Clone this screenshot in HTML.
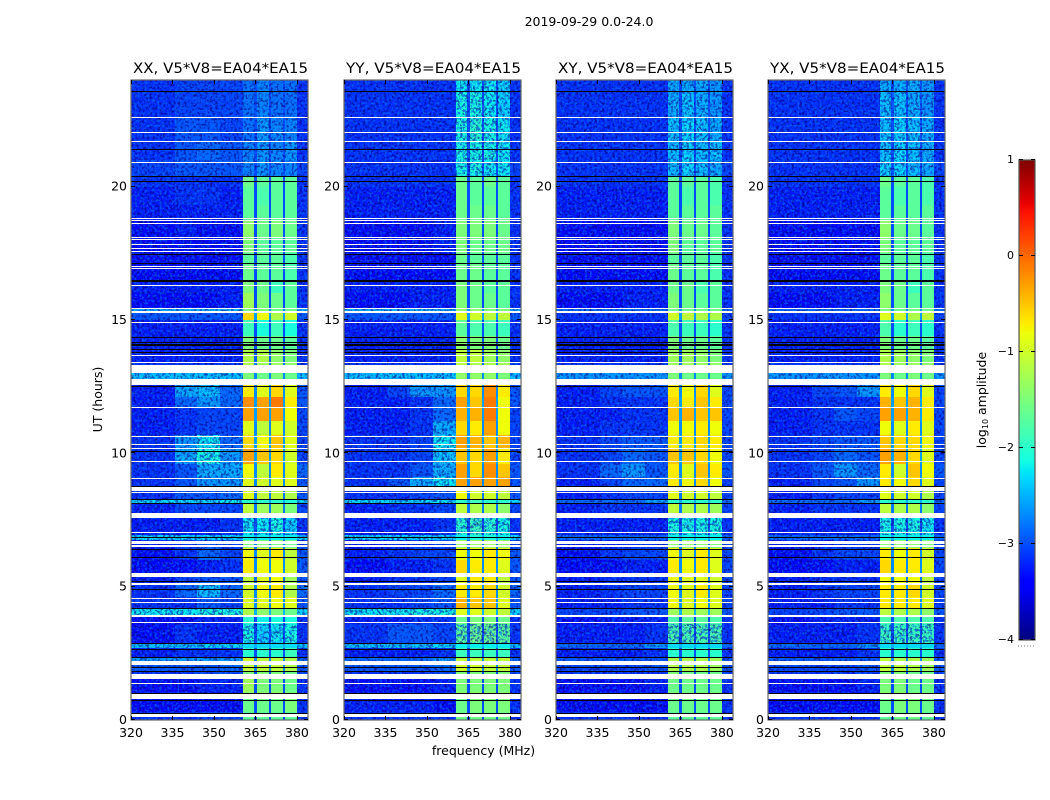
<!DOCTYPE html>
<html>
<head>
<meta charset="utf-8">
<title>2019-09-29 amplitude waterfall</title>
<style>
html,body{margin:0;padding:0;background:#fff;}
svg{display:block;}
text{font-family:"DejaVu Sans","Liberation Sans",sans-serif;fill:#000;}
</style>
</head>
<body>
<svg id="fig" width="1050" height="800" viewBox="0 0 1050 800" xmlns="http://www.w3.org/2000/svg">
<defs>
<filter id="spk-dark" x="0" y="0" width="100%" height="100%" color-interpolation-filters="sRGB">
<feTurbulence type="fractalNoise" baseFrequency="0.38" numOctaves="2" seed="4"/>
<feColorMatrix type="matrix" values="0 0 0 0 0  0 0 0 0 0  0 0 0 0 0.5  6 0 0 0 -2.9"/>
</filter>
<filter id="spk-light" x="0" y="0" width="100%" height="100%" color-interpolation-filters="sRGB">
<feTurbulence type="fractalNoise" baseFrequency="0.4" numOctaves="2" seed="11"/>
<feColorMatrix type="matrix" values="0 0 0 0 0  0 0 0 0 0.42  0 0 0 0 1  0 6 0 0 -3.0"/>
</filter>
</defs>
<text x="589" y="26" font-size="12.5" text-anchor="middle">2019-09-29 0.0-24.0</text>
<text x="483.5" y="755" font-size="12.5" text-anchor="middle">frequency (MHz)</text>
<text x="102" y="399.5" font-size="12.5" text-anchor="middle" transform="rotate(-90 102 399.5)">UT (hours)</text>
<text x="986" y="400" font-size="12.5" text-anchor="middle" transform="rotate(-90 986 400)">log<tspan font-size="8" dy="2">10</tspan><tspan dy="-2"> amplitude</tspan></text>
<g id="panels"></g>
<g id="cbar"></g>
</svg>
<script>
// ---- axis data ----
const xTicks = [320, 335, 350, 365, 380];
const yTicks = [0, 5, 10, 15, 20];
const cbarTicks = [1, 0, -1, -2, -3, -4];
const panelNames = ['XX', 'YY', 'XY', 'YX'];
// frequency edges (MHz) of heatmap columns
const freqEdges = [320, 336, 344, 352, 360.5, 364.6, 365.4, 369.8, 370.6, 374.8, 375.6, 380, 384];
// which value in a row each column reads; 9 means the shared gap level
const columnValue = [0, 1, 2, 3, 4, 9, 5, 9, 6, 9, 7, 8];
// UT edges (hours) of heatmap rows
const utEdges = [0,.3,.8,1.05,1.6,1.85,2.05,2.35,2.7,2.88,3.6,3.92,4.2,4.6,5.1,5.5,6,6.45,6.75,6.95,7.6,8.15,8.3,8.7,9.1,9.6,10.2,10.7,11.2,11.7,12.1,12.55,13.05,13.4,13.9,14.4,15,15.3,15.45,16,16.5,17.1,17.5,18.1,18.7,19.3,20,20.4,21,21.7,22.6,23.6,24];
// log10 amplitude in the narrow gaps between sub-bands, one per row
const gapLevels = [-3.0,-3.0,-3.0,-3.0,-3.0,-2.7,-2.7,-3.0,-2.5,-3.0,-3.0,-2.5,-2.7,-2.7,-2.8,-2.7,-2.7,-2.8,-2.5,-3.0,-2.8,-2.5,-2.8,-2.7,-2.7,-2.6,-2.6,-2.7,-2.6,-2.6,-2.7,-2.7,-2.8,-2.9,-3.0,-3.0,-2.6,-2.6,-3.0,-3.0,-3.0,-3.0,-3.0,-3.0,-3.0,-3.0,-3.0,-3.0,-3.0,-3.0,-3.0,-3.0];
// flagged data: rows drawn white / black, hours [start, end]
const whiteFlags = [[.1,.25],[.77,1],[1.35,1.4],[1.55,1.74],[2.05,2.23],[3.65,3.69],[3.88,3.92],[4.37,4.41],[4.55,4.59],[5.08,5.12],[5.35,5.5],[6.5,6.56],[6.6,6.73],[7,7.04],[7.57,7.75],[8.5,8.54],[8.6,8.76],[9.04,9.08],[9.66,9.7],[10.15,10.19],[10.3,10.34],[10.61,10.65],[11.69,11.73],[12.55,12.8],[13,13.3],[13.38,13.42],[13.64,13.68],[14.88,14.92],[15.25,15.34],[15.4,15.46],[16.27,16.31],[16.9,16.94],[16.98,17.02],[17.54,17.58],[17.65,17.69],[17.8,17.84],[18,18.04],[18.07,18.11],[18.6,18.64],[18.7,18.74],[18.8,18.84],[20.88,20.92],[21.67,21.71],[22,22.04],[22.57,22.61]];
const blackFlags = [.28,.74,1.03,1.85,2,2.35,2.68,2.87,4.2,4.93,5.23,6.13,6.43,6.85,8.12,8.3,8.78,10.08,12.52,13.8,13.93,14.05,14.1,14.17,14.35,16.45,16.5,17.13,17.47,20.2,20.39,21.4,23.58];
// UT spans where the band is weak enough for noise to show through
const noisyBandSpans = [[2.88,3.6],[6.95,7.57],[20.4,24]];
// log10 amplitude rows: 320-336, 336-344, 344-352, 352-360.5, sub-band 1-4, 380-384
const rowsXX = [
[-3.0,-3.0,-2.9,-2.9,-1.7,-1.7,-1.7,-1.7,-3.0],[-3.2,-3.2,-3.2,-3.2,-1.6,-1.6,-1.6,-1.5,-3.0],[-3.1,-3.1,-3.1,-3.1,-1.4,-1.4,-1.4,-1.5,-3.0],[-3.2,-3.2,-3.1,-3.1,-1.3,-1.5,-1.5,-1.6,-3.0],
[-3.0,-3.0,-2.9,-2.9,-1.5,-1.5,-1.5,-1.6,-2.9],[-2.8,-2.8,-2.8,-2.7,-1.1,-1.1,-1.1,-1.2,-2.8],[-2.6,-2.6,-2.6,-2.6,-1.0,-1.1,-1.1,-1.2,-2.7],[-3.1,-3.0,-3.0,-3.0,-2.0,-2.0,-2.0,-1.9,-3.0],
[-2.4,-2.4,-2.3,-2.3,-2.3,-2.3,-2.3,-2.3,-2.4],[-3.2,-3.0,-3.1,-3.1,-2.1,-2.3,-2.2,-2.1,-3.0],[-3.2,-3.2,-3.1,-3.1,-2.0,-2.2,-2.1,-2.1,-3.0],[-2.2,-2.2,-2.1,-2.1,-1.2,-1.4,-1.5,-1.6,-2.3],
[-3.0,-3.0,-2.8,-2.9,-0.9,-0.9,-0.8,-0.9,-2.8],[-3.0,-2.7,-2.4,-2.7,-1.0,-0.8,-0.7,-1.2,-2.7],[-3.1,-2.9,-2.8,-2.8,-1.1,-0.9,-0.8,-1.3,-2.8],[-3.2,-3.2,-3.1,-3.0,-0.7,-0.8,-0.8,-1.0,-2.8],
[-3.2,-3.0,-2.7,-2.9,-0.8,-0.9,-0.7,-1.1,-2.8],[-3.1,-3.0,-2.8,-2.9,-1.5,-1.5,-1.5,-1.6,-2.9],[-2.3,-2.3,-2.3,-2.3,-2.2,-2.2,-2.2,-2.2,-2.3],[-3.1,-3.1,-3.1,-3.0,-2.2,-2.2,-2.1,-2.3,-3.0],
[-3.1,-2.9,-2.9,-2.9,-1.1,-1.3,-1.3,-1.5,-2.9],[-2.3,-2.3,-2.3,-2.2,-2.0,-2.0,-2.0,-2.1,-2.3],[-3.0,-2.8,-2.8,-2.7,-0.9,-1.1,-1.1,-1.2,-2.8],[-3.0,-2.8,-2.6,-2.6,-0.9,-1.0,-0.9,-0.9,-2.8],
[-3.0,-2.8,-2.5,-2.5,-0.8,-1.1,-0.7,-0.9,-2.7],[-3.0,-2.5,-2.1,-2.6,-0.3,-0.5,-0.6,-1.0,-2.9],[-3.0,-2.6,-2.2,-2.7,-0.6,-0.8,-0.5,-0.9,-2.9],[-3.1,-3.0,-2.9,-2.9,-0.9,-1.1,-0.9,-1.0,-2.9],
[-3.1,-3.0,-2.9,-2.9,-0.3,-0.3,-0.3,-0.8,-2.9],[-3.1,-2.7,-2.6,-2.7,-0.2,-0.3,-0.1,-0.7,-2.8],[-3.1,-2.5,-2.4,-2.7,-0.7,-0.9,-0.6,-0.9,-2.8],[-2.4,-2.4,-2.4,-2.4,-1.5,-1.6,-1.5,-1.6,-2.4],
[-3.0,-3.0,-3.0,-3.0,-1.2,-1.3,-1.3,-1.4,-3.0],[-3.1,-3.1,-3.1,-3.1,-1.2,-1.2,-1.4,-1.5,-3.0],[-3.1,-3.1,-3.1,-3.1,-1.5,-1.6,-1.6,-1.7,-3.0],[-3.1,-3.1,-3.1,-3.1,-1.9,-2.1,-1.9,-2.1,-3.0],
[-2.8,-2.8,-2.8,-2.8,-0.6,-0.8,-1.2,-1.0,-2.8],[-2.5,-2.5,-2.5,-2.5,-1.5,-1.5,-1.6,-1.6,-2.5],[-3.2,-3.2,-3.2,-3.1,-1.3,-1.5,-1.6,-1.7,-3.0],[-3.1,-3.1,-3.1,-3.1,-1.5,-1.6,-1.9,-1.7,-3.0],
[-3.2,-3.2,-3.2,-3.2,-1.6,-1.7,-1.7,-1.8,-3.0],[-3.2,-3.2,-3.2,-3.2,-1.7,-1.7,-1.7,-1.8,-3.0],[-3.2,-3.2,-3.2,-3.2,-1.5,-1.7,-1.7,-1.7,-3.0],[-3.2,-3.1,-3.2,-3.2,-1.4,-1.6,-1.5,-1.6,-3.0],
[-3.1,-3.1,-3.1,-3.1,-1.7,-1.7,-1.7,-1.7,-3.0],[-3.1,-3.0,-3.0,-3.1,-1.7,-1.8,-1.7,-1.7,-3.0],[-3.0,-3.0,-3.0,-3.0,-1.6,-1.7,-1.7,-1.7,-3.0],[-2.9,-2.8,-2.8,-2.8,-2.7,-2.6,-2.7,-2.7,-2.9],
[-3.0,-2.8,-2.7,-2.8,-2.7,-2.6,-2.7,-2.6,-3.0],[-3.0,-2.8,-2.8,-2.9,-2.8,-2.6,-2.7,-2.7,-3.0],[-3.0,-2.9,-2.9,-2.9,-2.8,-2.7,-2.8,-2.8,-3.0],[-3.0,-2.9,-2.9,-2.9,-2.8,-2.7,-2.8,-2.8,-3.0]];
const rowsYY = [
[-3.0,-3.0,-3.0,-3.0,-1.6,-1.6,-1.6,-1.6,-3.0],[-3.1,-3.1,-3.1,-3.2,-1.6,-1.5,-1.5,-1.5,-3.0],[-3.1,-3.1,-3.1,-3.1,-1.4,-1.4,-1.4,-1.4,-3.0],[-3.2,-3.2,-3.2,-3.1,-1.5,-1.5,-1.5,-1.5,-3.0],
[-3.0,-3.0,-3.0,-2.9,-1.5,-1.5,-1.5,-1.5,-2.9],[-2.8,-2.8,-2.8,-2.7,-1.0,-1.0,-1.1,-1.1,-2.8],[-2.7,-2.7,-2.7,-2.6,-1.1,-1.1,-1.1,-1.1,-2.7],[-3.1,-3.1,-3.1,-3.0,-1.9,-1.9,-1.9,-1.9,-3.0],
[-2.4,-2.4,-2.4,-2.3,-2.2,-2.2,-2.2,-2.2,-2.4],[-3.0,-2.8,-2.8,-2.9,-1.7,-1.6,-1.6,-1.7,-3.0],[-3.1,-3.1,-3.0,-3.0,-1.6,-1.5,-1.5,-1.6,-3.0],[-2.2,-2.2,-2.1,-2.1,-0.9,-0.9,-1.0,-1.1,-2.3],
[-3.0,-3.0,-2.9,-2.8,-0.4,-0.5,-0.5,-0.9,-2.8],[-3.0,-2.9,-2.9,-2.7,-0.7,-0.7,-0.6,-1.0,-2.7],[-3.1,-3.0,-3.0,-2.9,-0.9,-0.7,-0.7,-1.1,-2.8],[-3.2,-3.1,-3.1,-3.0,-0.6,-0.7,-0.7,-0.9,-2.8],
[-3.1,-3.0,-2.9,-2.9,-0.8,-0.8,-0.7,-0.8,-2.8],[-3.1,-3.0,-3.0,-2.9,-1.3,-1.3,-1.3,-1.4,-2.9],[-2.3,-2.3,-2.3,-2.3,-2.2,-2.1,-2.1,-2.2,-2.3],[-3.1,-3.1,-3.1,-3.0,-2.0,-1.9,-2.0,-2.1,-3.0],
[-3.1,-3.0,-3.0,-2.9,-1.1,-1.2,-1.2,-1.4,-2.9],[-2.3,-2.3,-2.3,-2.2,-2.0,-1.9,-2.0,-2.0,-2.3],[-3.0,-3.0,-2.9,-2.8,-0.8,-1.0,-1.0,-1.1,-2.8],[-3.0,-2.8,-2.5,-2.2,-0.3,-0.3,-0.3,-0.3,-2.8],
[-3.0,-3.0,-2.8,-2.5,-0.3,-0.6,-0.2,-0.5,-2.8],[-3.0,-3.0,-2.9,-2.4,-0.5,-0.6,-0.3,-0.7,-2.9],[-3.0,-3.0,-2.9,-2.2,-0.3,-0.4,-0.5,-0.4,-2.9],[-3.1,-3.1,-3.0,-2.5,-0.6,-0.7,-0.3,-0.8,-2.9],
[-3.1,-3.1,-3.0,-2.7,-0.4,-0.4,-0.1,-0.8,-2.9],[-3.1,-3.1,-3.0,-2.7,-0.3,-0.5,-0.1,-0.8,-2.8],[-3.1,-2.9,-2.6,-2.6,-0.6,-0.6,-0.2,-0.7,-2.8],[-2.4,-2.4,-2.4,-2.4,-1.4,-1.4,-1.4,-1.5,-2.4],
[-3.0,-3.0,-3.0,-3.0,-1.1,-1.2,-1.2,-1.3,-3.0],[-3.1,-3.1,-3.1,-3.1,-1.1,-1.1,-1.3,-1.4,-3.0],[-3.1,-3.1,-3.1,-3.1,-1.4,-1.5,-1.5,-1.6,-3.0],[-3.1,-3.1,-3.1,-3.1,-1.7,-1.8,-1.8,-1.9,-3.0],
[-2.8,-2.8,-2.8,-2.8,-0.9,-1.0,-1.1,-1.1,-2.8],[-2.5,-2.5,-2.5,-2.5,-1.4,-1.4,-1.5,-1.5,-2.5],[-3.2,-3.2,-3.1,-3.1,-1.5,-1.6,-1.6,-1.7,-3.0],[-3.1,-3.1,-3.1,-3.1,-1.5,-1.6,-1.7,-1.7,-3.0],
[-3.2,-3.2,-3.2,-3.2,-1.6,-1.6,-1.7,-1.7,-3.0],[-3.2,-3.2,-3.2,-3.2,-1.6,-1.7,-1.7,-1.7,-3.0],[-3.2,-3.2,-3.2,-3.1,-1.5,-1.6,-1.6,-1.6,-3.0],[-3.2,-3.2,-3.2,-3.1,-1.5,-1.5,-1.5,-1.6,-3.0],
[-3.1,-3.1,-3.1,-3.1,-1.6,-1.6,-1.6,-1.7,-3.0],[-3.1,-3.1,-3.1,-3.1,-1.6,-1.7,-1.7,-1.7,-3.0],[-3.0,-3.0,-3.0,-3.0,-1.6,-1.7,-1.6,-1.7,-3.0],[-3.0,-3.0,-3.0,-3.0,-2.1,-2.1,-2.2,-2.2,-2.9],
[-3.0,-3.0,-3.0,-3.0,-2.1,-2.1,-2.1,-2.2,-3.0],[-3.0,-3.0,-3.0,-3.0,-2.1,-2.0,-2.1,-2.2,-3.0],[-3.0,-3.0,-3.0,-3.0,-2.1,-2.1,-2.2,-2.3,-3.0],[-3.0,-3.0,-3.0,-3.0,-2.2,-2.2,-2.2,-2.3,-3.0]];
const rowsXY = [
[-3.0,-3.0,-3.0,-3.0,-1.7,-1.7,-1.7,-1.7,-3.0],[-3.2,-3.2,-3.2,-3.2,-1.6,-1.6,-1.6,-1.6,-3.0],[-3.1,-3.1,-3.1,-3.1,-1.5,-1.5,-1.5,-1.5,-3.0],[-3.2,-3.2,-3.2,-3.1,-1.6,-1.6,-1.6,-1.6,-3.0],
[-3.0,-3.0,-3.0,-3.0,-1.5,-1.6,-1.6,-1.6,-2.9],[-2.9,-2.9,-2.9,-2.8,-1.2,-1.2,-1.2,-1.3,-2.8],[-2.8,-2.8,-2.8,-2.8,-1.2,-1.2,-1.2,-1.3,-2.8],[-3.1,-3.1,-3.1,-3.0,-2.0,-2.0,-2.0,-2.0,-3.0],
[-2.7,-2.7,-2.7,-2.6,-2.3,-2.3,-2.3,-2.3,-2.7],[-3.1,-3.1,-3.1,-3.0,-1.8,-1.8,-1.8,-1.8,-3.0],[-3.2,-3.1,-3.1,-3.1,-1.8,-1.7,-1.7,-1.8,-3.0],[-2.9,-2.9,-2.8,-2.8,-1.3,-1.2,-1.3,-1.3,-2.8],
[-3.1,-3.1,-3.0,-3.0,-0.8,-0.9,-0.8,-0.9,-2.9],[-3.1,-3.0,-2.9,-2.9,-0.8,-0.9,-0.7,-0.9,-2.9],[-3.1,-3.0,-3.0,-3.0,-0.8,-0.9,-0.9,-1.0,-2.9],[-3.2,-3.2,-3.1,-3.1,-0.7,-0.8,-0.7,-0.9,-2.9],
[-3.2,-3.0,-2.9,-2.9,-0.8,-0.9,-0.7,-0.9,-2.9],[-3.1,-3.1,-3.0,-3.0,-1.4,-1.4,-1.4,-1.5,-2.9],[-2.7,-2.7,-2.7,-2.7,-2.2,-2.2,-2.2,-2.2,-2.7],[-3.1,-3.1,-3.1,-3.1,-2.1,-2.1,-2.1,-2.1,-3.0],
[-3.1,-3.0,-3.0,-3.0,-1.1,-1.2,-1.2,-1.3,-2.9],[-2.7,-2.7,-2.7,-2.6,-2.0,-2.0,-2.0,-2.0,-2.7],[-3.1,-3.0,-2.9,-2.9,-0.9,-1.0,-1.0,-1.1,-2.9],[-3.1,-2.9,-2.7,-2.7,-0.7,-0.8,-0.6,-0.8,-2.9],
[-3.0,-2.7,-2.6,-2.8,-0.7,-0.9,-0.5,-0.7,-2.8],[-3.0,-2.9,-2.7,-2.8,-0.5,-0.5,-0.6,-0.8,-2.9],[-3.0,-2.9,-2.8,-2.8,-0.7,-0.7,-0.6,-0.7,-2.9],[-3.1,-3.0,-3.0,-3.0,-0.8,-0.8,-0.7,-0.8,-2.9],
[-3.1,-3.1,-3.0,-3.0,-0.5,-0.4,-0.5,-0.5,-2.9],[-3.1,-3.0,-3.0,-3.0,-0.6,-0.7,-0.5,-0.7,-2.9],[-3.1,-2.9,-2.8,-2.8,-0.7,-0.8,-0.6,-0.9,-2.9],[-2.6,-2.6,-2.6,-2.6,-1.5,-1.6,-1.6,-1.6,-2.6],
[-3.0,-3.0,-3.0,-3.0,-1.3,-1.3,-1.3,-1.4,-3.0],[-3.1,-3.1,-3.1,-3.1,-1.3,-1.3,-1.4,-1.5,-3.0],[-3.1,-3.1,-3.1,-3.1,-1.5,-1.6,-1.6,-1.7,-3.0],[-3.1,-3.1,-3.1,-3.1,-1.8,-1.9,-1.9,-2.0,-3.0],
[-3.0,-3.0,-3.0,-3.0,-1.0,-1.1,-1.2,-1.2,-2.9],[-2.7,-2.7,-2.7,-2.7,-1.6,-1.6,-1.6,-1.6,-2.7],[-3.2,-3.2,-3.1,-3.1,-1.5,-1.6,-1.7,-1.7,-3.0],[-3.1,-3.1,-3.1,-3.1,-1.6,-1.6,-1.8,-1.7,-3.0],
[-3.2,-3.2,-3.2,-3.2,-1.6,-1.7,-1.7,-1.8,-3.0],[-3.2,-3.2,-3.2,-3.2,-1.7,-1.7,-1.7,-1.8,-3.0],[-3.2,-3.2,-3.2,-3.2,-1.5,-1.7,-1.7,-1.7,-3.0],[-3.2,-3.2,-3.2,-3.2,-1.5,-1.6,-1.6,-1.7,-3.0],
[-3.1,-3.1,-3.1,-3.1,-1.7,-1.7,-1.7,-1.7,-3.0],[-3.1,-3.1,-3.1,-3.1,-1.7,-1.8,-1.7,-1.8,-3.0],[-3.0,-3.0,-3.0,-3.0,-1.7,-1.7,-1.7,-1.8,-3.0],[-3.0,-3.0,-3.0,-3.0,-2.4,-2.3,-2.4,-2.5,-2.9],
[-3.0,-3.0,-3.0,-3.0,-2.4,-2.3,-2.4,-2.4,-3.0],[-3.0,-3.0,-3.0,-3.0,-2.4,-2.3,-2.4,-2.5,-3.0],[-3.0,-3.0,-3.0,-3.0,-2.5,-2.4,-2.5,-2.6,-3.0],[-3.0,-3.0,-3.0,-3.0,-2.5,-2.5,-2.5,-2.6,-3.0]];
const rowsYX = [
[-3.0,-3.0,-3.0,-3.0,-1.7,-1.6,-1.6,-1.7,-3.0],[-3.2,-3.2,-3.2,-3.2,-1.6,-1.5,-1.5,-1.6,-3.0],[-3.1,-3.1,-3.1,-3.1,-1.4,-1.4,-1.5,-1.5,-3.0],[-3.2,-3.2,-3.2,-3.1,-1.5,-1.5,-1.6,-1.6,-3.0],
[-3.0,-3.0,-3.0,-3.0,-1.5,-1.5,-1.6,-1.6,-2.9],[-2.9,-2.9,-2.9,-2.8,-1.1,-1.1,-1.2,-1.3,-2.8],[-2.8,-2.8,-2.8,-2.8,-1.1,-1.2,-1.2,-1.3,-2.8],[-3.1,-3.1,-3.1,-3.0,-2.0,-2.0,-2.0,-2.0,-3.0],
[-2.7,-2.7,-2.7,-2.6,-2.3,-2.3,-2.3,-2.3,-2.7],[-3.1,-3.1,-3.1,-3.0,-1.9,-1.9,-1.9,-1.9,-3.0],[-3.2,-3.1,-3.1,-3.1,-1.8,-1.8,-1.8,-1.8,-3.0],[-2.9,-2.9,-2.8,-2.8,-1.1,-1.2,-1.2,-1.4,-2.8],
[-3.1,-3.1,-3.0,-3.0,-0.7,-0.7,-0.7,-0.9,-2.9],[-3.1,-3.0,-2.9,-2.9,-0.7,-0.7,-0.6,-1.0,-2.9],[-3.1,-3.0,-3.0,-3.0,-0.8,-0.8,-0.8,-1.1,-2.9],[-3.2,-3.2,-3.1,-3.1,-0.6,-0.7,-0.7,-0.9,-2.9],
[-3.2,-3.0,-2.9,-2.9,-0.7,-0.8,-0.7,-1.0,-2.9],[-3.1,-3.1,-3.0,-3.0,-1.4,-1.4,-1.4,-1.5,-2.9],[-2.7,-2.7,-2.7,-2.7,-2.2,-2.2,-2.2,-2.2,-2.7],[-3.1,-3.1,-3.1,-3.1,-2.1,-2.1,-2.1,-2.2,-3.0],
[-3.1,-3.0,-3.0,-3.0,-1.1,-1.2,-1.2,-1.4,-2.9],[-2.7,-2.7,-2.7,-2.6,-2.0,-2.0,-2.0,-2.0,-2.7],[-3.1,-3.0,-2.9,-2.9,-0.9,-1.0,-1.0,-1.2,-2.9],[-3.1,-2.9,-2.8,-2.6,-0.7,-0.8,-0.6,-0.9,-2.9],
[-3.0,-2.8,-2.6,-2.7,-0.7,-1.0,-0.5,-0.8,-2.8],[-3.0,-2.9,-2.7,-2.8,-0.3,-0.4,-0.6,-0.9,-2.9],[-3.0,-2.9,-2.8,-2.8,-0.5,-0.6,-0.6,-0.8,-2.9],[-3.1,-3.0,-3.0,-3.0,-0.8,-0.9,-0.7,-0.9,-2.9],
[-3.1,-3.0,-2.8,-2.9,-0.3,-0.3,-0.4,-0.7,-2.9],[-3.1,-3.0,-3.0,-3.0,-0.4,-0.5,-0.4,-0.7,-2.9],[-3.1,-2.9,-2.8,-2.6,-0.7,-0.8,-0.6,-0.9,-2.9],[-2.6,-2.6,-2.6,-2.6,-1.5,-1.6,-1.5,-1.6,-2.6],
[-3.0,-3.0,-3.0,-3.0,-1.2,-1.3,-1.3,-1.4,-3.0],[-3.1,-3.1,-3.1,-3.1,-1.2,-1.3,-1.4,-1.5,-3.0],[-3.1,-3.1,-3.1,-3.1,-1.5,-1.6,-1.6,-1.7,-3.0],[-3.1,-3.1,-3.1,-3.1,-1.8,-2.0,-1.9,-2.0,-3.0],
[-3.0,-3.0,-3.0,-3.0,-0.9,-1.0,-1.2,-1.1,-2.9],[-2.7,-2.7,-2.7,-2.7,-1.5,-1.6,-1.6,-1.6,-2.7],[-3.2,-3.2,-3.1,-3.1,-1.4,-1.6,-1.7,-1.7,-3.0],[-3.1,-3.1,-3.1,-3.1,-1.5,-1.6,-1.9,-1.7,-3.0],
[-3.2,-3.2,-3.2,-3.2,-1.6,-1.7,-1.7,-1.8,-3.0],[-3.2,-3.2,-3.2,-3.2,-1.7,-1.7,-1.7,-1.8,-3.0],[-3.2,-3.2,-3.2,-3.2,-1.5,-1.7,-1.7,-1.7,-3.0],[-3.2,-3.2,-3.2,-3.2,-1.4,-1.6,-1.6,-1.7,-3.0],
[-3.1,-3.1,-3.1,-3.1,-1.7,-1.7,-1.7,-1.7,-3.0],[-3.1,-3.1,-3.1,-3.1,-1.7,-1.8,-1.7,-1.8,-3.0],[-3.0,-3.0,-3.0,-3.0,-1.6,-1.7,-1.7,-1.8,-3.0],[-3.0,-3.0,-3.0,-3.0,-2.3,-2.3,-2.4,-2.5,-2.9],
[-3.0,-3.0,-3.0,-3.0,-2.4,-2.3,-2.4,-2.5,-3.0],[-3.0,-3.0,-3.0,-3.0,-2.4,-2.3,-2.4,-2.5,-3.0],[-3.0,-3.0,-3.0,-3.0,-2.4,-2.4,-2.5,-2.6,-3.0],[-3.0,-3.0,-3.0,-3.0,-2.5,-2.5,-2.5,-2.6,-3.0]];
const panelRows = [rowsXX, rowsYY, rowsXY, rowsYX];

// ---- layout ----
const NS = 'http://www.w3.org/2000/svg';
const panelLeft = [131, 344, 556, 768];
const panelWidth = 177, plotTop = 80, plotHeight = 640;
const freqMin = 320, freqMax = 384, utMax = 24;
const xScale = (left, f) => left + (f - freqMin) / (freqMax - freqMin) * panelWidth;
const yScale = h => plotTop + plotHeight - h / utMax * plotHeight;
// the texture overlay lightens the off-band background; compensate here
const noiseCompensation = -0.15;

function jetPart(x, pts) {
  for (let i = 1; i < pts.length; i++) {
    if (x <= pts[i][0]) {
      const a = pts[i - 1], b = pts[i];
      return a[1] + (b[1] - a[1]) * (x - a[0]) / (b[0] - a[0]);
    }
  }
  return pts[pts.length - 1][1];
}
function jet(v) {
  const t = Math.min(1, Math.max(0, (v + 4) / 5));
  const r = jetPart(t, [[0,0],[.35,0],[.66,1],[.89,1],[1,.5]]);
  const g = jetPart(t, [[0,0],[.125,0],[.375,1],[.64,1],[.91,0],[1,0]]);
  const b = jetPart(t, [[0,.5],[.11,1],[.34,1],[.65,0],[1,0]]);
  return 'rgb(' + Math.round(r * 255) + ',' + Math.round(g * 255) + ',' + Math.round(b * 255) + ')';
}
function rect(parent, x, y, w, h, fill) {
  const el = document.createElementNS(NS, 'rect');
  el.setAttribute('x', x);
  el.setAttribute('y', y);
  el.setAttribute('width', w);
  el.setAttribute('height', h);
  el.setAttribute('fill', fill);
  el.setAttribute('shape-rendering', 'crispEdges');
  parent.appendChild(el);
  return el;
}
function label(parent, x, y, str, anchor) {
  const el = document.createElementNS(NS, 'text');
  el.setAttribute('x', x);
  el.setAttribute('y', y);
  el.setAttribute('font-size', '12.5');
  el.setAttribute('text-anchor', anchor);
  el.textContent = str;
  parent.appendChild(el);
  return el;
}
function tick(parent, x1, y1, x2, y2) {
  const el = document.createElementNS(NS, 'line');
  el.setAttribute('x1', x1);
  el.setAttribute('y1', y1);
  el.setAttribute('x2', x2);
  el.setAttribute('y2', y2);
  el.setAttribute('stroke', '#000');
  el.setAttribute('stroke-width', '1');
  el.setAttribute('shape-rendering', 'crispEdges');
  parent.appendChild(el);
  return el;
}
function noise(parent, x0, x1, y0, y1, opacity) {
  ['spk-dark', 'spk-light'].forEach(function (fid) {
    const n = rect(parent, x0, y0, x1 - x0, y1 - y0, '#000');
    n.setAttribute('filter', 'url(#' + fid + ')');
    n.setAttribute('opacity', opacity);
    
    
  });
}

const panelsRoot = document.getElementById('panels');
panelNames.forEach(function (name, p) {
  const left = panelLeft[p];
  const rows = panelRows[p];
  const g = document.createElementNS(NS, 'g');
  
  
  panelsRoot.appendChild(g);

  // heatmap cells
  rows.forEach(function (row, r) {
    const y0 = Math.round(yScale(utEdges[r + 1]));
    const y1 = Math.round(yScale(utEdges[r]));
    columnValue.forEach(function (vi, c) {
      const x0 = Math.round(xScale(left, freqEdges[c]));
      const x1 = Math.round(xScale(left, freqEdges[c + 1]));
      let v = vi === 9 ? gapLevels[r] : row[vi];
      const offBand = vi < 4 || vi === 8;
      if (offBand && v < -2.6) v += noiseCompensation;
      const cell = rect(g, x0, y0, x1 - x0, y1 - y0, jet(v));
      
      
    });
  });

  // noise texture over the off-band background and weak band spans
  [[320, 360.5], [380, 384]].forEach(function (span) {
    noise(g, Math.round(xScale(left, span[0])), Math.round(xScale(left, span[1])), plotTop, plotTop + plotHeight, '0.6');
  });
  noisyBandSpans.forEach(function (span) {
    noise(g, Math.round(xScale(left, 360.5)), Math.round(xScale(left, 380)), Math.round(yScale(span[1])), Math.round(yScale(span[0])), '0.6');
  });

  // flagged rows
  whiteFlags.forEach(function (f) {
    const y0 = Math.round(yScale(f[1]));
    const y1 = Math.round(yScale(f[0]));
    const w = rect(g, left, y0, panelWidth, Math.max(1, y1 - y0), '#fff');
    
    
  });
  blackFlags.forEach(function (h) {
    const b = rect(g, left, Math.round(yScale(h)), panelWidth, 1, '#000');
    
    
  });

  // frame
  const frame = document.createElementNS(NS, 'rect');
  frame.setAttribute('x', left);
  frame.setAttribute('y', plotTop);
  frame.setAttribute('width', panelWidth);
  frame.setAttribute('height', plotHeight);
  frame.setAttribute('fill', 'none');
  frame.setAttribute('stroke', '#666');
  frame.setAttribute('stroke-width', '1.2');
  
  
  g.appendChild(frame);

  // ticks and labels
  xTicks.forEach(function (f) {
    const x = Math.round(xScale(left, f)) + 0.5;
    const t1 = tick(g, x, plotTop + plotHeight, x, plotTop + plotHeight - 4);
    
    
    const t2 = tick(g, x, plotTop, x, plotTop + 4);
    
    
    const l = label(g, xScale(left, f), 737, String(f), 'middle');
    
    
  });
  yTicks.forEach(function (h) {
    const y = Math.round(yScale(h)) - 0.5;
    const t1 = tick(g, left, y, left + 4, y);
    
    
    const t2 = tick(g, left + panelWidth, y, left + panelWidth - 4, y);
    
    
    const l = label(g, left - 4, yScale(h) + 4, String(h), 'end');
    
    
  });

  // title
  const title = document.createElementNS(NS, 'text');
  title.setAttribute('x', left + panelWidth / 2 + 1);
  title.setAttribute('y', 73);
  title.setAttribute('font-size', '14');
  title.setAttribute('text-anchor', 'middle');
  title.setAttribute('textLength', '175');
  title.setAttribute('lengthAdjust', 'spacingAndGlyphs');
  
  
  title.textContent = name + ', V5*V8=EA04*EA15';
  g.appendChild(title);
});

// ---- colorbar ----
const cbarRoot = document.getElementById('cbar');
const cbarLeft = 1019, cbarWidth = 16, cbarTop = 160, cbarHeight = 480;
const cbarY = v => cbarTop + (1 - v) / 5 * cbarHeight;
for (let i = 0; i < 240; i++) {
  const v = 1 - (i + 0.5) * 5 / 240;
  const s = rect(cbarRoot, cbarLeft, cbarTop + i * 2, cbarWidth, 2, jet(v));
  
  
}
const cbFrame = document.createElementNS(NS, 'rect');
cbFrame.setAttribute('x', cbarLeft);
cbFrame.setAttribute('y', cbarTop);
cbFrame.setAttribute('width', cbarWidth);
cbFrame.setAttribute('height', cbarHeight);
cbFrame.setAttribute('fill', 'none');
cbFrame.setAttribute('stroke', '#555');
cbFrame.setAttribute('stroke-width', '1.2');


cbarRoot.appendChild(cbFrame);
cbarTicks.forEach(function (v) {
  const y = Math.round(cbarY(v)) - 0.5;
  const t1 = tick(cbarRoot, cbarLeft, y, cbarLeft + 4, y);
  
  
  const t2 = tick(cbarRoot, cbarLeft + cbarWidth, y, cbarLeft + cbarWidth - 4, y);
  
  
  const l = label(cbarRoot, cbarLeft - 5, cbarY(v) + 3, String(v).replace('-', '\u2212'), 'end');
  l.setAttribute('font-size', '11');
  
  
});
const dots = document.createElementNS(NS, 'line');
dots.setAttribute('x1', 1018);
dots.setAttribute('y1', 646);
dots.setAttribute('x2', 1035);
dots.setAttribute('y2', 646);
dots.setAttribute('stroke', '#777');
dots.setAttribute('stroke-width', '1');
dots.setAttribute('stroke-dasharray', '1 2');


cbarRoot.appendChild(dots);
</script>
</body>
</html>
